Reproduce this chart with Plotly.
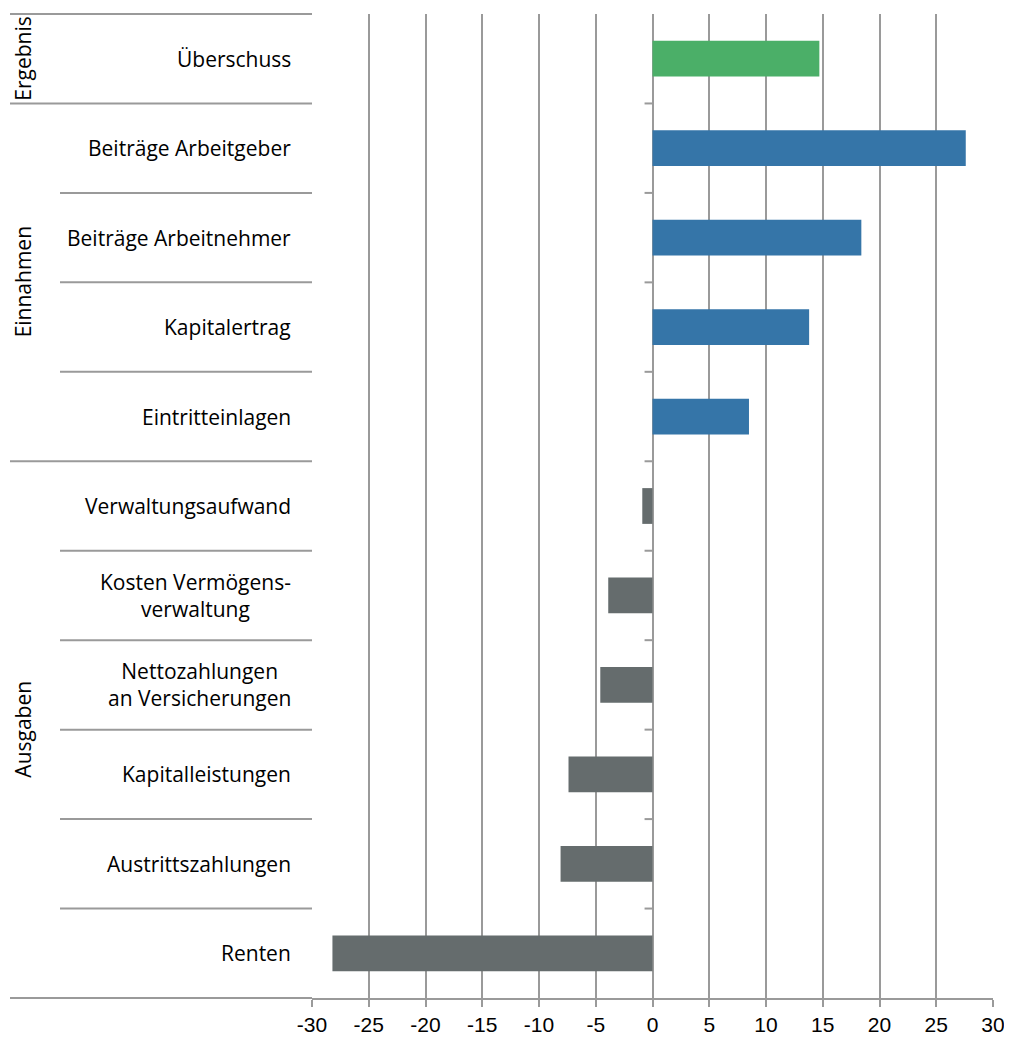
import plotly.graph_objects as go

categories = ["Überschuss", "Beiträge Arbeitgeber", "Beiträge Arbeitnehmer", "Kapitalertrag",
              "Eintritteinlagen", "Verwaltungsaufwand", "Kosten Vermögens-<br>verwaltung",
              "Nettozahlungen<br>an Versicherungen", "Kapitalleistungen", "Austrittszahlungen", "Renten"]
values = [14.7, 27.6, 18.4, 13.8, 8.5, -0.9, -3.9, -4.6, -7.4, -8.1, -28.2]
groups = ["Ergebnis", "Einnahmen", "Einnahmen", "Einnahmen", "Einnahmen",
          "Ausgaben", "Ausgaben", "Ausgaben", "Ausgaben", "Ausgaben", "Ausgaben"]
group_names = ["Ergebnis", "Einnahmen", "Ausgaben"]
group_colors = {"Ergebnis": "#4BAF68", "Einnahmen": "#3575A8", "Ausgaben": "#656C6D"}
x_ticks = [-30, -25, -20, -15, -10, -5, 0, 5, 10, 15, 20, 25, 30]

# page has an 8px body margin: figure origin is at page (8, 8)
OFF = 8
W, H = 1012 - OFF, 1041 - OFF
L, R, T, B = 312 - OFF, 19, 14 - OFF, 43
pw = W - L - R
FONT = "Open Sans, Liberation Sans, Arial, sans-serif"
TICKFONT = "Liberation Sans, Arial, sans-serif"
GRID = "#9a9a9a"

fig = go.Figure()
fig.add_trace(go.Bar(
    y=categories, x=values, orientation="h",
    marker=dict(color=[group_colors[g] for g in groups], line=dict(width=0)),
    showlegend=False,
))

def px2paper(px):
    # px given in page coordinates
    return (px - OFF - L) / pw

n = len(categories)
shapes = []
shapes.append(dict(type="line", xref="paper", yref="paper", x0=px2paper(10), x1=0, y0=1, y1=1,
                   line=dict(color=GRID, width=2)))
shapes.append(dict(type="line", xref="paper", yref="paper", x0=px2paper(10), x1=0, y0=0, y1=0,
                   line=dict(color=GRID, width=2)))
for i in range(1, n):
    is_group = groups[i] != groups[i - 1]
    yp = 1 - i / n
    shapes.append(dict(type="line", xref="paper", yref="paper",
                       x0=px2paper(10 if is_group else 60), x1=0, y0=yp, y1=yp,
                       line=dict(color=GRID, width=2)))
    shapes.append(dict(type="line", xref="x", yref="paper", x0=-0.7, x1=0, y0=yp, y1=yp,
                       line=dict(color=GRID, width=2)))

annotations = []
for i, c in enumerate(categories):
    annotations.append(dict(xref="paper", yref="y", x=px2paper(293), y=c, text=c,
                            xanchor="right", yanchor="middle", align="center", showarrow=False,
                            font=dict(family=FONT, size=21, color="black")))
for g in group_names:
    idx = [i for i, gg in enumerate(groups) if gg == g]
    ymid = 1 - ((idx[0] + idx[-1] + 1) / 2) / n
    annotations.append(dict(xref="paper", yref="paper", x=px2paper(23), y=ymid, text=g,
                            textangle=-90, xanchor="center", yanchor="middle", showarrow=False,
                            font=dict(family=FONT, size=21, color="black")))

fig.update_layout(
    width=W, height=H,
    margin=dict(l=L, r=R, t=T, b=B),
    plot_bgcolor="white", paper_bgcolor="white",
    bargap=0.6,
    shapes=shapes, annotations=annotations,
    xaxis=dict(range=[-30, 30], tickvals=x_ticks, ticktext=[str(v) for v in x_ticks],
               showgrid=True, gridcolor=GRID, gridwidth=2,
               zeroline=True, zerolinecolor=GRID, zerolinewidth=2,
               showline=True, linecolor=GRID, linewidth=2,
               ticks="outside", ticklen=7, tickwidth=2, tickcolor=GRID,
               tickfont=dict(family=TICKFONT, size=21, color="black")),
    yaxis=dict(autorange="reversed", showticklabels=False, showgrid=False, zeroline=False,
               showline=False, ticks=""),
)

fig.write_html("out.html")
